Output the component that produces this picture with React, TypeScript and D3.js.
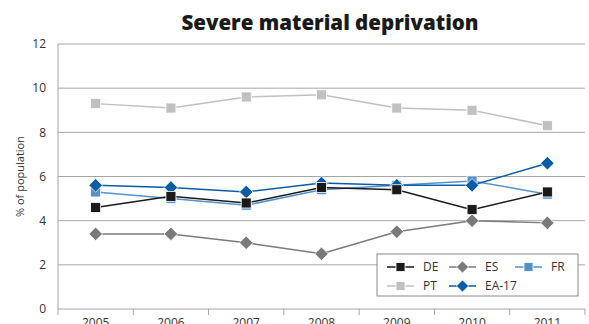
import React from "react";
import * as d3 from "d3";

const years = ["2005", "2006", "2007", "2008", "2009", "2010", "2011"];
const deValues = [4.6, 5.1, 4.8, 5.5, 5.4, 4.5, 5.3];
const esValues = [3.4, 3.4, 3.0, 2.5, 3.5, 4.0, 3.9];
const frValues = [5.3, 5.0, 4.7, 5.4, 5.6, 5.8, 5.2];
const ptValues = [9.3, 9.1, 9.6, 9.7, 9.1, 9.0, 8.3];
const eaValues = [5.6, 5.5, 5.3, 5.7, 5.6, 5.6, 6.6];
const yTicks = [0, 2, 4, 6, 8, 10, 12];

type Series = { name: string; values: number[]; color: string; shape: "square" | "diamond" };

const series: Series[] = [
  { name: "PT", values: ptValues, color: "#c0c0c0", shape: "square" },
  { name: "ES", values: esValues, color: "#7a7a7a", shape: "diamond" },
  { name: "FR", values: frValues, color: "#5592cc", shape: "square" },
  { name: "EA-17", values: eaValues, color: "#0a5ca8", shape: "diamond" },
  { name: "DE", values: deValues, color: "#1a1a1a", shape: "square" },
];
const legendOrder = ["DE", "ES", "FR", "PT", "EA-17"];

const W = 589, H = 324;
const left = 58, right = 585, top = 44, bottom = 309;
const font = "'Open Sans', 'DejaVu Sans', sans-serif";

function Marker({ x, y, s, size }: { x: number; y: number; s: Series; size: number }) {
  if (s.shape === "square") {
    return <rect x={x - size / 2} y={y - size / 2} width={size} height={size} fill={s.color} stroke="#ffffff" strokeWidth={0.8} />;
  }
  const r = size * 0.68;
  return (
    <path
      d={`M${x},${y - r}L${x + r},${y}L${x},${y + r}L${x - r},${y}Z`}
      fill={s.color}
      stroke="#ffffff"
      strokeWidth={0.8}
    />
  );
}

export default function App() {
  const x = d3.scaleBand<string>().domain(years).range([left, right]);
  const y = d3.scaleLinear().domain([0, 12]).range([bottom, top]);
  const cx = (yr: string) => (x(yr) as number) + x.bandwidth() / 2;
  const line = d3
    .line<number>()
    .x((_, i) => cx(years[i]))
    .y((v) => y(v));

  const legX = 377, legY = 254, legW = 201, legH = 42;
  const colX = [387, 449, 515];
  const rowY = [267, 286];

  return (
    <svg width={W} height={H} style={{ position: "absolute", left: 0, top: 0, background: "#fff" }}>
      <text x={330} y={30} textAnchor="middle" fontFamily={font} fontWeight={800} fontSize={20.5} fill="#1a1a1a">
        Severe material deprivation
      </text>
      {yTicks.map((t) => (
        <g key={t}>
          {t > 0 && <line x1={left} x2={right} y1={y(t)} y2={y(t)} stroke="#a6a6a6" strokeWidth={1} />}
          <text x={46} y={y(t)} dy="0.35em" textAnchor="end" fontFamily={font} fontSize={12} fill="#333">
            {t}
          </text>
        </g>
      ))}
      <line x1={left} x2={left} y1={top} y2={bottom} stroke="#a6a6a6" />
      <line x1={left} x2={right} y1={bottom} y2={bottom} stroke="#a6a6a6" />
      {years.map((yr) => (
        <line key={"t" + yr} x1={x(yr) as number} x2={x(yr) as number} y1={bottom} y2={bottom + 6} stroke="#a6a6a6" />
      ))}
      <line x1={right} x2={right} y1={bottom} y2={bottom + 6} stroke="#a6a6a6" />
      {years.map((yr) => (
        <text key={"l" + yr} x={cx(yr)} y={327} textAnchor="middle" fontFamily={font} fontSize={12} fill="#333">
          {yr}
        </text>
      ))}
      <text
        transform={`translate(24,${(top + bottom) / 2}) rotate(-90)`}
        textAnchor="middle"
        fontFamily={font}
        fontSize={11}
        fill="#333"
      >
        % of population
      </text>
      {series.map((s) => (
        <g key={s.name}>
          <path d={line(s.values) || ""} fill="none" stroke={s.color} strokeWidth={1.5} />
          {s.values.map((v, i) => (
            <Marker key={i} x={cx(years[i])} y={y(v)} s={s} size={10} />
          ))}
        </g>
      ))}
      <rect x={legX} y={legY} width={legW} height={legH} fill="#fff" stroke="#8c8c8c" strokeWidth={1} />
      {legendOrder.map((name, k) => {
        const s = series.find((d) => d.name === name)!;
        const col = k % 3, row = Math.floor(k / 3);
        const lx = colX[col], ly = rowY[row];
        return (
          <g key={name}>
            <line x1={lx} x2={lx + 27} y1={ly} y2={ly} stroke={s.color} strokeWidth={1.5} />
            <Marker x={lx + 13.5} y={ly} s={s} size={9} />
            <text x={lx + 36} y={ly} dy="0.35em" fontFamily={font} fontSize={12} fill="#333">
              {name}
            </text>
          </g>
        );
      })}
    </svg>
  );
}
